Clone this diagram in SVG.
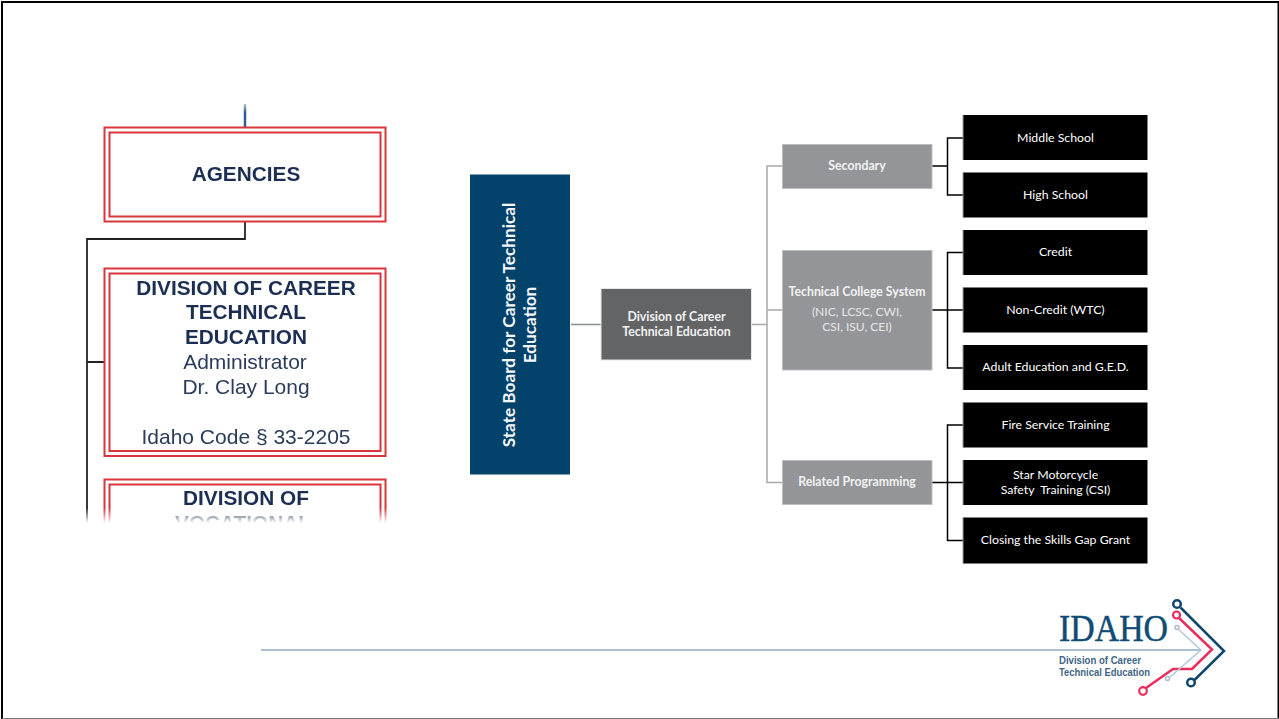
<svg xmlns="http://www.w3.org/2000/svg" width="1279" height="719" viewBox="0 0 1279 719">
<style>
text{font-family:"Lato","Open Sans",sans-serif;text-anchor:middle}
.old text{font-family:"Liberation Sans",Arial,sans-serif;fill:#2b3c5a;font-size:21px}
.old .b{font-weight:bold;fill:#1b2f52;font-size:20.800px}
.red{fill:#fff;stroke:#d8343c;stroke-width:2}
.redi{fill:none;stroke:#d8343c;stroke-width:2}
.g{fill:#939598;stroke:#bcbec0;stroke-width:1}
.k{fill:#000}
.ke{fill:none;stroke:#9a9a9a;stroke-width:1}
.w{fill:#fff;font-size:12.300px}
.gl{fill:#f1f2f2;font-size:12.300px;font-weight:bold}
.gr{fill:#e6e7e8;font-size:12px}
.c-g{fill:none;stroke:#a7a9ac;stroke-width:1.500}
.c-k{fill:none;stroke:#000;stroke-width:1.500}
</style>
<defs>
<filter id="soft" x="-5%" y="-5%" width="110%" height="110%"><feGaussianBlur stdDeviation="0.7"/></filter>
<linearGradient id="fade" x1="0" y1="0" x2="0" y2="1"><stop offset="0" stop-color="#fff" stop-opacity="0"/><stop offset="1" stop-color="#fff"/></linearGradient>
<linearGradient id="fadeup" x1="0" y1="1" x2="0" y2="0"><stop offset="0" stop-color="#fff" stop-opacity="0"/><stop offset="1" stop-color="#fff"/></linearGradient>
</defs>
<rect width="1279" height="719" fill="#fff"/>
<g id="frame"><path d="M2 719V2H1278.500V719" fill="none" stroke="#000" stroke-width="2"/><path d="M2 718.500H1279" stroke="#777" stroke-width="1"/></g>

<g id="old-chart" class="old" filter="url(#soft)">
<g id="old-connectors">
<path d="M245 104V128" fill="none" stroke="#2f5f93" stroke-width="2.500"/>
<path d="M245 222V239H87V525M87 362H104" fill="none" stroke="#222" stroke-width="1.800"/>
</g>
<g id="agencies"><rect class="red" x="104.500" y="127.500" width="281" height="94"/><rect class="redi" x="109.500" y="132.500" width="271" height="84"/>
<text class="b" x="246" y="180.500">AGENCIES</text></g>
<g id="division-old"><rect class="red" x="104.500" y="268.500" width="281" height="187.500"/><rect class="redi" x="109.500" y="273.500" width="271" height="177.500"/>
<text class="b" x="246" y="294.500">DIVISION OF CAREER</text>
<text class="b" x="246" y="319">TECHNICAL</text>
<text class="b" x="246" y="344">EDUCATION</text>
<text x="245" y="369">Administrator</text>
<text x="246" y="394">Dr. Clay Long</text>
<text x="246" y="444">Idaho Code § 33-2205</text></g>
<g id="division-vocational"><rect class="red" x="104.500" y="479.500" width="281" height="100"/><rect class="redi" x="109.500" y="484.500" width="271" height="100"/>
<text class="b" x="246" y="504.500">DIVISION OF</text>
<text class="b" x="243" y="530">VOCATIONAL</text></g>
</g>
<rect x="238" y="100" width="14" height="12" fill="url(#fadeup)"/>
<rect x="70" y="508" width="330" height="15" fill="url(#fade)"/>
<rect x="70" y="523" width="330" height="70" fill="#fff"/>

<g id="connectors">
<path d="M571 324.500H601" fill="none" stroke="#8a8c8e" stroke-width="1.500"/>
<path class="c-g" d="M751 324.500H767M782 166H767V482.500H782M767 310H782"/>
<path class="c-k" d="M932 166H947.500M963 138H947.500V195H963M932 310H963M963 252.500H947.500V368H963M932 482.500H963M963 425H947.500V540.500H963"/>
</g>

<g id="state-board"><rect x="470" y="174.500" width="100" height="300" fill="#03426a"/>
<text transform="translate(515 325) rotate(-90)" fill="#f4f6f8" font-size="17.200" font-weight="bold">State Board for Career Technical</text>
<text transform="translate(535.500 325) rotate(-90)" fill="#f4f6f8" font-size="17.200" font-weight="bold">Education</text></g>
<g id="division"><rect x="601" y="288.500" width="150.500" height="71.500" fill="#636466" stroke="#e6e7e8"/>
<text class="gl" x="676.500" y="321">Division of Career</text><text class="gl" x="676.500" y="336">Technical Education</text></g>
<g id="secondary"><rect class="g" x="782.500" y="144.500" width="149.500" height="44"/><text class="gl" x="857" y="170">Secondary</text></g>
<g id="tcs"><rect class="g" x="782.500" y="250.500" width="149.500" height="119.500"/><text class="gl" x="857" y="296">Technical College System</text>
<text class="gr" x="857" y="316">(NIC, LCSC, CWI,</text><text class="gr" x="857" y="331">CSI, ISU, CEI)</text></g>
<g id="related"><rect class="g" x="782.500" y="460.500" width="149.500" height="44"/><text class="gl" x="857" y="486">Related Programming</text></g>

<g id="middle-school"><rect class="k" x="963" y="115" width="184.500" height="45"/><path class="ke" d="M963 115V160"/><text class="w" x="1055.500" y="142">Middle School</text></g>
<g id="high-school"><rect class="k" x="963" y="172.500" width="184.500" height="45"/><path class="ke" d="M963 172.500V217.500"/><text class="w" x="1055.500" y="199">High School</text></g>
<g id="credit"><rect class="k" x="963" y="230" width="184.500" height="45"/><path class="ke" d="M963 230V275"/><text class="w" x="1055.500" y="256">Credit</text></g>
<g id="non-credit"><rect class="k" x="963" y="287.500" width="184.500" height="45"/><path class="ke" d="M963 287.500V332.500"/><text class="w" x="1055.500" y="314">Non-Credit (WTC)</text></g>
<g id="adult-ed"><rect class="k" x="963" y="345" width="184.500" height="45"/><path class="ke" d="M963 345V390"/><text class="w" x="1055.500" y="371">Adult Education and G.E.D.</text></g>
<g id="fire"><rect class="k" x="963" y="402.500" width="184.500" height="45"/><path class="ke" d="M963 402.500V447.500"/><text class="w" x="1055.500" y="429">Fire Service Training</text></g>
<g id="star"><rect class="k" x="963" y="460" width="184.500" height="45"/><path class="ke" d="M963 460V505"/><text class="w" x="1055.500" y="479">Star Motorcycle</text><text class="w" x="1055.500" y="494" xml:space="preserve">Safety  Training (CSI)</text></g>
<g id="skills-gap"><rect class="k" x="963" y="517.500" width="184.500" height="46"/><path class="ke" d="M963 517.500V563.500"/><text class="w" x="1055.500" y="544">Closing the Skills Gap Grant</text></g>

<g id="footer">
<path d="M261 650H1201" stroke="#8fabc1" stroke-width="1.500" fill="none"/>
<path d="M1180.500 607.500L1224 651 1194.500 680" fill="none" stroke="#0f466e" stroke-width="2.500"/>
<circle cx="1177" cy="604" r="3.800" fill="#fff" stroke="#0f466e" stroke-width="2.500"/><circle cx="1191" cy="682.500" r="3.800" fill="#fff" stroke="#0f466e" stroke-width="2.500"/>
<path d="M1179 618L1212 649.500 1192 669H1173L1146 688" fill="none" stroke="#ec2c5c" stroke-width="2.500"/>
<circle cx="1176.500" cy="615" r="3.500" fill="#fff" stroke="#ec2c5c" stroke-width="2.200"/><circle cx="1143" cy="691" r="3.800" fill="#fff" stroke="#ec2c5c" stroke-width="2.200"/>
<path d="M1178 629L1201 650 1170 677" fill="none" stroke="#b4c8d8" stroke-width="1.500"/>
<circle cx="1177" cy="627.500" r="2" fill="#fff" stroke="#a9bccb" stroke-width="1.500"/><circle cx="1167.500" cy="678.500" r="2" fill="#fff" stroke="#a9bccb" stroke-width="1.500"/>
<text x="1059" y="641" style="text-anchor:start;font-family:'Liberation Serif',serif" font-size="37" fill="#0f4c75" stroke="#0f4c75" stroke-width="0.500" textLength="109" lengthAdjust="spacingAndGlyphs">IDAHO</text>
<text x="1059" y="664" style="text-anchor:start;font-family:'Liberation Sans',sans-serif" font-size="10" font-weight="bold" fill="#3f6585" textLength="82" lengthAdjust="spacingAndGlyphs">Division of Career</text>
<text x="1059" y="676" style="text-anchor:start;font-family:'Liberation Sans',sans-serif" font-size="10" font-weight="bold" fill="#3f6585" textLength="91" lengthAdjust="spacingAndGlyphs">Technical Education</text>
</g>
</svg>
